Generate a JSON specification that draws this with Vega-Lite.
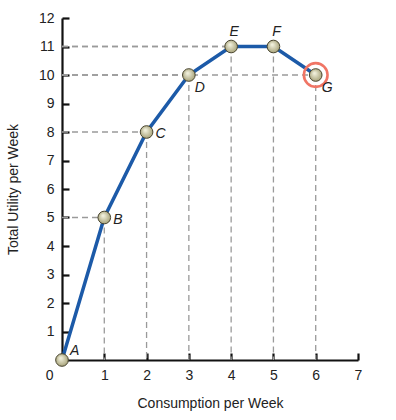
{
  "$schema": "https://vega.github.io/schema/vega-lite/v6.json",
  "width": 296,
  "height": 342,
  "autosize": "none",
  "padding": {"left": 62, "top": 18, "right": 38, "bottom": 60},
  "background": "white",
  "config": {
    "view": {"stroke": null},
    "font": "Liberation Sans",
    "axis": {
      "domainColor": "#111",
      "domainWidth": 2.2,
      "tickColor": "#111",
      "tickWidth": 2.2,
      "tickSize": -7,
      "labelFontSize": 14,
      "labelColor": "#222",
      "titleFontSize": 14,
      "titleFontWeight": "normal",
      "titleColor": "#222",
      "grid": false
    }
  },
  "data": {
    "values": [
      {"q": 0, "u": 0, "label": "A", "hx": 0},
      {"q": 1, "u": 5, "label": "B", "hx": 1},
      {"q": 2, "u": 8, "label": "C", "hx": 2},
      {"q": 3, "u": 10, "label": "D", "hx": 3},
      {"q": 4, "u": 11, "label": "E", "hx": 5},
      {"q": 5, "u": 11, "label": "F", "hx": 5},
      {"q": 6, "u": 10, "label": "G", "hx": 6}
    ]
  },
  "encoding": {
    "x": {
      "field": "q", "type": "quantitative",
      "scale": {"domain": [0, 7], "nice": false},
      "axis": {
        "values": [0, 1, 2, 3, 4, 5, 6, 7],
        "title": "Consumption per Week",
        "titlePadding": 14,
        "labelPadding": 15,
        "labelAlign": {"expr": "datum.value == 0 ? 'right' : 'center'"},
        "labelOffset": {"expr": "datum.value == 0 ? -9 : 0"}
      }
    },
    "y": {
      "field": "u", "type": "quantitative",
      "scale": {"domain": [0, 12], "nice": false},
      "axis": {
        "values": [1, 2, 3, 4, 5, 6, 7, 8, 9, 10, 11, 12],
        "title": "Total Utility per Week",
        "titlePadding": 18,
        "labelPadding": 15
      }
    }
  },
  "layer": [
    {
      "mark": {"type": "rule", "color": "#9a9a9a", "strokeDash": [6, 4], "strokeWidth": 1.3},
      "transform": [{"filter": "datum.q > 0"}],
      "encoding": {"y2": {"datum": 0}}
    },
    {
      "mark": {"type": "rule", "color": "#9a9a9a", "strokeDash": [6, 4], "strokeWidth": 1.3},
      "transform": [{"filter": "datum.q > 0"}],
      "encoding": {"x": {"datum": 0}, "x2": {"field": "hx"}}
    },
    {
      "mark": {"type": "line", "color": "#1c5aa8", "strokeWidth": 3.5},
      "encoding": {}
    },
    {
      "mark": {"type": "point", "filled": false, "stroke": "#f07565", "strokeWidth": 2.6, "size": 560, "opacity": 1},
      "transform": [{"filter": "datum.label == 'G'"}],
      "encoding": {}
    },
    {
      "mark": {
        "type": "point", "filled": true, "size": 160, "opacity": 1,
        "stroke": "#4a4630", "strokeWidth": 1,
        "color": {
          "gradient": "radial", "x1": 0.4, "y1": 0.35, "r1": 0.05, "x2": 0.5, "y2": 0.5, "r2": 0.6,
          "stops": [{"offset": 0, "color": "#f1f0dc"}, {"offset": 1, "color": "#9c976b"}]
        }
      },
      "encoding": {}
    },
    {
      "mark": {"type": "text", "fontStyle": "italic", "fontSize": 14, "align": "left", "dx": 8, "dy": -9, "color": "#222"},
      "transform": [{"filter": "datum.label == 'A'"}],
      "encoding": {"text": {"field": "label"}}
    },
    {
      "mark": {"type": "text", "fontStyle": "italic", "fontSize": 14, "align": "left", "dx": 9, "dy": 2, "color": "#222"},
      "transform": [{"filter": "datum.label == 'B' || datum.label == 'C'"}],
      "encoding": {"text": {"field": "label"}}
    },
    {
      "mark": {"type": "text", "fontStyle": "italic", "fontSize": 14, "align": "left", "dx": 6, "dy": 13, "color": "#222"},
      "transform": [{"filter": "datum.label == 'D' || datum.label == 'G'"}],
      "encoding": {"text": {"field": "label"}}
    },
    {
      "mark": {"type": "text", "fontStyle": "italic", "fontSize": 14, "align": "center", "dx": 3, "dy": -15, "color": "#222"},
      "transform": [{"filter": "datum.label == 'E' || datum.label == 'F'"}],
      "encoding": {"text": {"field": "label"}}
    }
  ]
}
